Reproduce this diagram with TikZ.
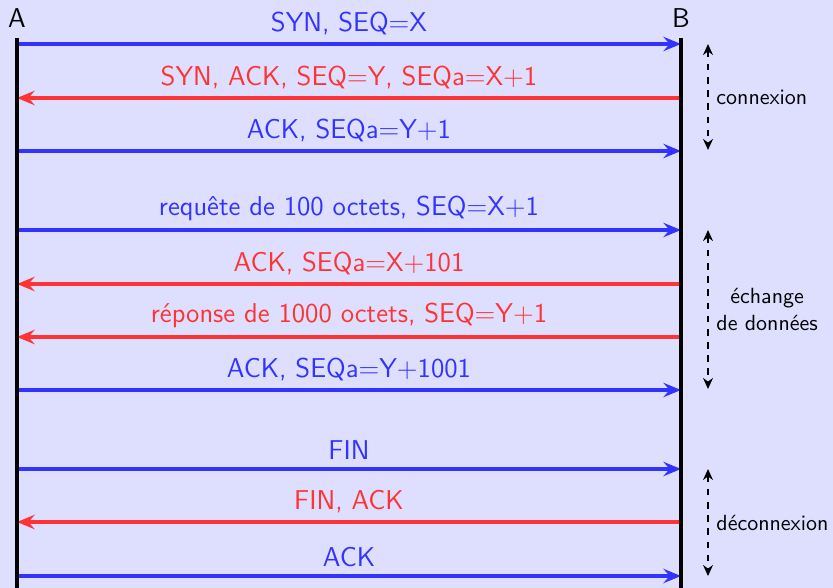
\documentclass[tikz,border=0pt]{standalone}
\usepackage{fontspec}
\usetikzlibrary{arrows.meta}

\definecolor{bgcol}{RGB}{222,222,255}
\definecolor{msgblue}{RGB}{51,51,255}
\definecolor{msgred}{RGB}{255,51,51}

\begin{document}
\begin{tikzpicture}[
  x=0.016cm, y=-0.016cm,
  every node/.style={font=\sffamily\fontsize{12.4}{15}\selectfont},
  lifeline/.style={draw, line width=2pt},
  toB/.style={draw, line width=1.6pt, color=msgblue, -{Stealth[length=8pt,width=6.5pt,inset=2.8pt]}},
  toA/.style={draw, line width=1.6pt, color=msgred, {Stealth[length=8pt,width=6.5pt,inset=2.8pt]}-},
  phase/.style={draw, line width=1pt, dashed, {Stealth[length=5pt,width=4.5pt]}-{Stealth[length=5pt,width=4.5pt]}},
  phaselabel/.style={font=\sffamily, align=center, anchor=west}
]
\fill[bgcol] (0,0) rectangle (833,588);
\useasboundingbox (0,0) rectangle (833,588);

% the two hosts
\node (A) at (17,18) {A};
\node (B) at (681,18) {B};
\coordinate (A top) at (17,38);
\coordinate (A end) at (17,588);
\coordinate (B top) at (681,38);
\coordinate (B end) at (681,588);

% messages
\foreach \y/\dir/\txt [count=\i] in {
  44/toB/{SYN, SEQ=X},
  98/toA/{SYN, ACK, SEQ=Y, SEQa=X+1},
  151/toB/{ACK, SEQa=Y+1},
  230/toB/{requête de 100 octets, SEQ=X+1},
  284/toA/{ACK, SEQa=X+101},
  337/toA/{réponse de 1000 octets, SEQ=Y+1},
  390/toB/{ACK, SEQa=Y+1001},
  469/toB/{FIN},
  522/toA/{FIN, ACK},
  576/toB/{ACK}}
{
  \coordinate (a\i) at (17,\y);
  \coordinate (b\i) at (681,\y);
  \draw[\dir] (a\i) -- node[above] {\txt} (b\i);
}

\draw[lifeline] (A top) -- (A end);
\draw[lifeline] (B top) -- (B end);

% phases
\coordinate (c1) at (708,44);
\coordinate (c2) at (708,150);
\coordinate (e1) at (708,230);
\coordinate (e2) at (708,389);
\coordinate (d1) at (708,469);
\coordinate (d2) at (708,576);
\draw[phase] (c1) -- node[phaselabel] {connexion} (c2);
\draw[phase] (e1) -- node[phaselabel] {échange\\de données} (e2);
\draw[phase] (d1) -- node[phaselabel] {déconnexion} (d2);
\end{tikzpicture}
\end{document}
